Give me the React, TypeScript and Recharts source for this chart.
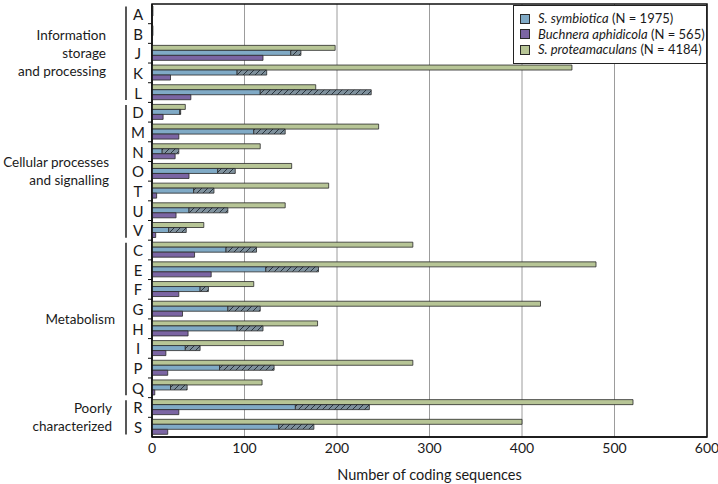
import React from "react";
import {
  BarChart,
  Bar,
  XAxis,
  YAxis,
  CartesianGrid,
  Legend,
  ReferenceArea,
} from "recharts";

// COG functional categories, top to bottom
const categories = ["A", "B", "J", "K", "L", "D", "M", "N", "O", "T", "U", "V", "C", "E", "F", "G", "H", "I", "P", "Q", "R", "S"];

// S. proteamaculans (green)
const proteamaculans = [1, 1, 198, 454, 177, 36, 245, 117, 151, 191, 144, 56, 282, 480, 110, 420, 179, 142, 282, 119, 520, 400];
// S. symbiotica intact genes (blue) + pseudogenes (hatched)
const symbioticaIntact = [1, 1, 150, 92, 117, 30, 110, 11, 71, 45, 40, 18, 80, 123, 52, 82, 92, 36, 73, 20, 155, 137];
const symbioticaPseudo = [0, 0, 11, 32, 120, 1, 34, 18, 19, 22, 42, 19, 33, 57, 9, 35, 28, 16, 59, 18, 80, 38];
// Buchnera aphidicola (purple)
const buchnera = [0, 0, 120, 20, 42, 12, 29, 25, 40, 5, 26, 4, 46, 64, 29, 33, 39, 15, 17, 3, 29, 17];

const xTicks = [0, 100, 200, 300, 400, 500, 600];

const groups = [
  { lines: ["Information", "storage", "and processing"], from: "A", to: "L" },
  { lines: ["Cellular processes", "and signalling"], from: "D", to: "V" },
  { lines: ["Metabolism"], from: "C", to: "Q" },
  { lines: ["Poorly", "characterized"], from: "R", to: "S" },
];
const groupLabelRight = [106, 109, 115, 112];

const legendItems = [
  { italic: "S. symbiotica", rest: " (N = 1975)", color: "#80aac6" },
  { italic: "Buchnera aphidicola", rest: " (N = 565)", color: "#7b65a3" },
  { italic: "S. proteamaculans", rest: " (N = 4184)", color: "#b7c596" },
];

const FONT = "Lato, 'Open Sans', sans-serif";
const W = 718;
const H = 484;
const TOP = 4;
const X_AXIS_H = 47;
const LEFT = 152;
const BAND = (H - TOP - X_AXIS_H) / categories.length;
const EDGE = "#2a2a2a";

const rows = categories.map((cat, i) => ({
  cat,
  prot: proteamaculans[i],
  symIntact: symbioticaIntact[i],
  symPseudo: symbioticaPseudo[i],
  buch: buchnera[i],
}));

function CategoryTick(props: any) {
  const { y, payload } = props;
  const idx = categories.indexOf(payload.value);
  const gi = groups.findIndex((g) => g.from === payload.value);
  let groupEl = null;
  if (gi >= 0) {
    const g = groups[gi];
    const n = categories.indexOf(g.to) - idx + 1;
    const top = y - BAND / 2;
    const bottom = top + n * BAND;
    const mid = (top + bottom) / 2;
    const lh = 18;
    groupEl = (
      <g>
        <line x1={126} x2={126} y1={top + 2.5} y2={bottom - 2.5} stroke="#111" strokeWidth={1.4} />
        {g.lines.map((ln, k) => (
          <text
            key={k}
            x={groupLabelRight[gi]}
            y={mid + (k - (g.lines.length - 1) / 2) * lh}
            textAnchor="end"
            dominantBaseline="central"
            fontSize={13.5}
            fill="#1a1a1a"
          >
            {ln}
          </text>
        ))}
      </g>
    );
  }
  return (
    <g>
      {idx > 0 && (
        <line x1={LEFT - 4} x2={LEFT} y1={y - BAND / 2} y2={y - BAND / 2} stroke="#111" strokeWidth={1} />
      )}
      <text x={138} y={y} textAnchor="middle" dominantBaseline="central" fontSize={15} fill="#1a1a1a">
        {payload.value}
      </text>
      {groupEl}
    </g>
  );
}

function LegendBox() {
  return (
    <div
      style={{
        border: "1.5px solid #222",
        background: "#fff",
        padding: "5px 0 5px 6px",
        fontFamily: FONT,
        fontSize: 13,
        lineHeight: "15.5px",
        color: "#1a1a1a",
      }}
    >
      {legendItems.map((it) => (
        <div key={it.italic} style={{ display: "flex", alignItems: "center" }}>
          <span
            style={{
              display: "inline-block",
              width: 8,
              height: 8,
              background: it.color,
              border: `1px solid ${EDGE}`,
              marginRight: 8,
            }}
          />
          <span>
            <i>{it.italic}</i>
            {it.rest}
          </span>
        </div>
      ))}
    </div>
  );
}

export default function App() {
  return (
    <div style={{ position: "absolute", left: 0, top: 0, width: W, height: H, background: "#fff" }}>
      <svg width={0} height={0} style={{ position: "absolute" }}>
        <defs>
          <pattern id="hatch" patternUnits="userSpaceOnUse" width={6} height={6}>
            <rect width={6} height={6} fill="#7f919d" />
            <path d="M-1,1 L1,-1 M0,6 L6,0 M5,7 L7,5" stroke="#1f2a33" strokeWidth={0.9} />
          </pattern>
        </defs>
      </svg>
      <BarChart
        layout="vertical"
        width={W}
        height={H}
        data={rows}
        margin={{ top: TOP, right: 11, left: 0, bottom: 0 }}
        barGap={0}
        barSize={5}
        style={{ fontFamily: FONT }}
      >
        <CartesianGrid horizontal={false} stroke="#9c9c9c" strokeWidth={1} />
        <XAxis
          type="number"
          domain={[0, 600]}
          ticks={xTicks}
          height={X_AXIS_H}
          tickLine={false}
          tickSize={4}
          axisLine={{ stroke: "#111", strokeWidth: 1.5 }}
          tick={{ fill: "#1a1a1a", fontSize: 14 }}
          label={{
            value: "Number of coding sequences",
            position: "insideBottom",
            offset: 4,
            fill: "#1a1a1a",
            fontSize: 14.5,
          }}
        />
        <YAxis
          type="category"
          dataKey="cat"
          width={LEFT}
          interval={0}
          tickLine={false}
          axisLine={{ stroke: "#111", strokeWidth: 1.5 }}
          tick={CategoryTick}
        />
        <ReferenceArea x1={0} x2={600} fill="none" stroke="#111" strokeWidth={1.5} />
        <Bar dataKey="prot" stackId="p" fill="#b7c596" stroke={EDGE} strokeWidth={0.8} isAnimationActive={false} />
        <Bar dataKey="symIntact" stackId="s" fill="#80aac6" stroke={EDGE} strokeWidth={0.8} isAnimationActive={false} />
        <Bar dataKey="symPseudo" stackId="s" fill="url(#hatch)" stroke={EDGE} strokeWidth={0.8} isAnimationActive={false} />
        <Bar dataKey="buch" stackId="b" fill="#7b65a3" stroke={EDGE} strokeWidth={0.8} isAnimationActive={false} />
        <Legend
          layout="horizontal"
          verticalAlign="middle"
          align="center"
          wrapperStyle={{ top: 5, left: 513, width: 194 }}
          content={LegendBox}
        />
      </BarChart>
    </div>
  );
}
